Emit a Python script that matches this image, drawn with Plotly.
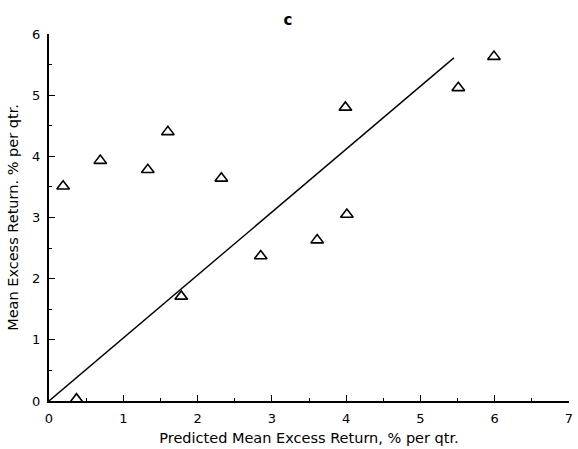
import plotly.graph_objects as go

# Predicted vs. realised mean excess returns (% per quarter)
predicted = [0.19, 0.69, 1.33, 1.60, 2.32, 1.78, 2.85, 0.37, 3.61, 3.99, 4.01, 5.51, 5.99]
realised = [3.51, 3.93, 3.78, 4.40, 3.64, 1.71, 2.37, 0.03, 2.63, 4.80, 3.05, 5.12, 5.63]

# Reference line through the origin
line_x = [0.0, 5.45]
line_y = [0.0, 5.61]

font_family = "DejaVu Sans, sans-serif"

fig = go.Figure()
fig.add_trace(go.Scatter(
    x=line_x, y=line_y, mode="lines",
    line=dict(color="black", width=1.4),
    showlegend=False, hoverinfo="skip",
))
fig.add_trace(go.Scatter(
    x=predicted, y=realised, mode="markers",
    marker=dict(symbol="triangle-up-open", size=11, color="black",
                line=dict(color="black", width=1.6)),
    cliponaxis=False, showlegend=False,
))

axis_common = dict(
    showgrid=False, zeroline=False,
    showline=True, linecolor="black", linewidth=2,
    ticks="inside", ticklen=6, tickwidth=1.4, tickcolor="black",
    minor=dict(ticks="inside", ticklen=3, tickwidth=1.2, tickcolor="black", dtick=0.5),
    tickfont=dict(family=font_family, size=13, color="black"),
    ticklabelstandoff=4,
    dtick=1,
)

fig.update_layout(
    width=578, height=449,
    margin=dict(l=49, r=5, t=34, b=47),
    paper_bgcolor="white", plot_bgcolor="white",
    title=dict(text="<b>c</b>", x=0.498, xanchor="center", y=0.955, yanchor="middle",
               font=dict(family=font_family, size=15, color="black")),
    xaxis=dict(range=[0, 7], **axis_common,
               title=dict(text="Predicted Mean Excess Return, % per qtr.",
                          font=dict(family=font_family, size=14.5, color="black"),
                          standoff=8)),
    yaxis=dict(range=[0, 6], **axis_common,
               title=dict(text="Mean Excess Return. % per qtr.",
                          font=dict(family=font_family, size=14.5, color="black"),
                          standoff=10)),
)

fig.write_html("out.html")
